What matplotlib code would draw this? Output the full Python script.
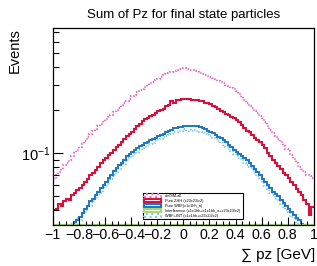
import numpy as np
import matplotlib
matplotlib.use("Agg")
import matplotlib.pyplot as plt
from matplotlib.patches import Patch
from matplotlib.ticker import MultipleLocator, FixedLocator, FixedFormatter, NullFormatter, LogLocator

plt.rcParams['font.family'] = ['Liberation Sans', 'DejaVu Sans']

# 100 bins between -1 and 1
edges = np.linspace(-1, 1, 101)

sm_all = [0.066, 0.070, 0.074, 0.078, 0.083, 0.086, 0.090, 0.096, 0.100, 0.106,
          0.110, 0.116, 0.122, 0.130, 0.137, 0.142, 0.148, 0.155, 0.160, 0.167,
          0.172, 0.180, 0.186, 0.194, 0.201, 0.208, 0.216, 0.224, 0.233, 0.241,
          0.249, 0.257, 0.266, 0.275, 0.283, 0.290, 0.300, 0.308, 0.316, 0.326,
          0.332, 0.341, 0.350, 0.357, 0.364, 0.370, 0.377, 0.383, 0.386, 0.390,
          0.392, 0.389, 0.384, 0.380, 0.376, 0.372, 0.366, 0.360, 0.352, 0.347,
          0.342, 0.335, 0.328, 0.322, 0.315, 0.309, 0.300, 0.294, 0.286, 0.279,
          0.272, 0.260, 0.248, 0.236, 0.224, 0.215, 0.207, 0.198, 0.191, 0.183,
          0.176, 0.165, 0.155, 0.146, 0.138, 0.132, 0.125, 0.119, 0.113, 0.107,
          0.103, 0.097, 0.091, 0.085, 0.080, 0.077, 0.074, 0.071, 0.069, 0.067]

pure_zhh = [0.040, 0.041, 0.044, 0.043, 0.046, 0.048, 0.047, 0.051, 0.053, 0.055,
            0.057, 0.060, 0.063, 0.066, 0.070, 0.073, 0.076, 0.080, 0.085, 0.089,
            0.093, 0.097, 0.101, 0.106, 0.110, 0.115, 0.120, 0.125, 0.131, 0.136,
            0.141, 0.148, 0.154, 0.160, 0.168, 0.172, 0.176, 0.181, 0.186, 0.190,
            0.196, 0.201, 0.205, 0.213, 0.218, 0.232, 0.226, 0.236, 0.234, 0.238,
            0.241, 0.238, 0.240, 0.236, 0.235, 0.234, 0.231, 0.230, 0.225, 0.223,
            0.220, 0.214, 0.210, 0.203, 0.198, 0.194, 0.189, 0.186, 0.180, 0.176,
            0.171, 0.164, 0.157, 0.150, 0.144, 0.140, 0.134, 0.128, 0.123, 0.119,
            0.115, 0.108, 0.101, 0.095, 0.090, 0.086, 0.082, 0.078, 0.073, 0.070,
            0.067, 0.063, 0.060, 0.056, 0.054, 0.051, 0.047, 0.044, 0.037, 0.042]

pure_wbf = [0.020, 0.021, 0.023, 0.024, 0.026, 0.027, 0.029, 0.031, 0.033, 0.034,
            0.036, 0.038, 0.041, 0.043, 0.046, 0.048, 0.051, 0.054, 0.057, 0.060,
            0.063, 0.067, 0.071, 0.075, 0.079, 0.083, 0.086, 0.090, 0.095, 0.099,
            0.102, 0.106, 0.109, 0.112, 0.115, 0.117, 0.120, 0.123, 0.126, 0.128,
            0.131, 0.134, 0.137, 0.140, 0.143, 0.145, 0.149, 0.150, 0.153, 0.152,
            0.156, 0.154, 0.156, 0.155, 0.156, 0.154, 0.152, 0.149, 0.147, 0.144,
            0.141, 0.138, 0.134, 0.130, 0.127, 0.123, 0.119, 0.114, 0.110, 0.106,
            0.102, 0.099, 0.096, 0.092, 0.089, 0.086, 0.082, 0.078, 0.074, 0.070,
            0.066, 0.063, 0.060, 0.057, 0.054, 0.052, 0.050, 0.047, 0.045, 0.043,
            0.041, 0.039, 0.037, 0.035, 0.034, 0.032, 0.030, 0.028, 0.026, 0.025]

interference = [0.008, 0.007, 0.009, 0.008, 0.007, 0.008, 0.009, 0.008, 0.007, 0.008,
                0.009, 0.008, 0.008, 0.007, 0.009, 0.008, 0.008, 0.009, 0.007, 0.008,
                0.009, 0.008, 0.007, 0.008, 0.009, 0.008, 0.008, 0.007, 0.009, 0.008,
                0.008, 0.009, 0.008, 0.007, 0.008, 0.009, 0.008, 0.008, 0.007, 0.009,
                0.008, 0.009, 0.008, 0.008, 0.007, 0.009, 0.008, 0.009, 0.008, 0.008,
                0.009, 0.008, 0.008, 0.009, 0.007, 0.008, 0.009, 0.008, 0.008, 0.007,
                0.009, 0.008, 0.008, 0.009, 0.008, 0.007, 0.008, 0.009, 0.008, 0.008,
                0.007, 0.009, 0.008, 0.008, 0.009, 0.008, 0.007, 0.008, 0.009, 0.008,
                0.008, 0.007, 0.009, 0.008, 0.008, 0.009, 0.008, 0.007, 0.008, 0.009,
                0.008, 0.008, 0.007, 0.009, 0.008, 0.008, 0.009, 0.008, 0.007, 0.008]

wbf_int = [0.019, 0.021, 0.022, 0.023, 0.025, 0.027, 0.028, 0.032, 0.031, 0.035,
           0.034, 0.038, 0.039, 0.042, 0.043, 0.046, 0.048, 0.052, 0.053, 0.057,
           0.059, 0.064, 0.066, 0.071, 0.074, 0.078, 0.081, 0.084, 0.089, 0.092,
           0.096, 0.099, 0.102, 0.105, 0.108, 0.110, 0.113, 0.116, 0.118, 0.121,
           0.123, 0.126, 0.129, 0.131, 0.134, 0.137, 0.140, 0.141, 0.144, 0.143,
           0.147, 0.144, 0.146, 0.143, 0.145, 0.142, 0.141, 0.138, 0.137, 0.133,
           0.131, 0.128, 0.125, 0.121, 0.118, 0.115, 0.111, 0.107, 0.103, 0.099,
           0.096, 0.093, 0.089, 0.086, 0.083, 0.080, 0.077, 0.073, 0.069, 0.066,
           0.062, 0.059, 0.056, 0.053, 0.051, 0.048, 0.047, 0.044, 0.042, 0.040,
           0.039, 0.036, 0.035, 0.033, 0.031, 0.030, 0.028, 0.026, 0.025, 0.023]

labels = ["c/v/SM-all", "Pure ZHH (c23c23/c2)", "Pure WBF(c1c1hh_a)",
          "Interference (c1c1hh+c1c1hh_a+c23c23/c2)", "WBF+INT (c1c1hh+c23c23/c2)"]
colors = ["#e874c8", "#d8103c", "#1a78c2", "#a6d96a", "#8cc8ec"]
xtick_vals = [-1, -0.8, -0.6, -0.4, -0.2, 0, 0.2, 0.4, 0.6, 0.8, 1]
xtick_text = ["\u22121", "\u22120.8", "\u22120.6", "\u22120.4", "\u22120.2", "0",
              "0.2", "0.4", "0.6", "0.8", "1"]

ylo, yhi = 0.0315, 0.75

fig = plt.figure(figsize=(3.17, 2.66), dpi=100)
ax = fig.add_axes([0.167, 0.154, 0.823, 0.741])

ax.stairs(sm_all, edges, color=colors[0], lw=1.6, ls=(0, (0.6, 0.9)), baseline=None)
ax.stairs(pure_zhh, edges, color=colors[1], lw=1.5, baseline=None)
ax.stairs(wbf_int, edges, color=colors[4], lw=1.5, ls=(0, (0.6, 0.9)), baseline=None)
ax.stairs(pure_wbf, edges, color=colors[2], lw=1.4, baseline=None)
# interference is below the range; draw it on the floor like ROOT does
ax.stairs(np.maximum(interference, ylo * 1.005), edges, color=colors[3], lw=1.6, baseline=None)

ax.set_yscale("log")
ax.set_xlim(-1, 1)
ax.set_ylim(ylo, yhi)

ax.xaxis.set_major_locator(FixedLocator(xtick_vals))
ax.xaxis.set_major_formatter(FixedFormatter(xtick_text))
ax.xaxis.set_minor_locator(MultipleLocator(0.05))
ax.yaxis.set_major_locator(LogLocator(base=10, numticks=5))
ax.yaxis.set_minor_locator(LogLocator(base=10, subs=np.arange(2, 10), numticks=20))
ax.yaxis.set_minor_formatter(NullFormatter())

ax.tick_params(which="both", direction="in", top=False, right=False)
ax.tick_params(axis="x", which="major", length=6, width=0.8, labelsize=10.3, pad=2)
ax.tick_params(axis="x", which="minor", length=3, width=0.8)
ax.tick_params(axis="y", which="major", length=7, width=0.8, labelsize=10.5, pad=2)
ax.tick_params(axis="y", which="minor", length=4, width=0.8)
for s in ax.spines.values():
    s.set_linewidth(0.9)

ax.set_title("Sum of Pz for final state particles", fontsize=9.5, pad=7)
fig.text(0.994, 0.04, "\u2211 pz [GeV]", ha="right", va="center", fontsize=11)
fig.text(0.048, 0.81, "Events", ha="center", va="center", rotation=90, fontsize=10.5)

handles = [
    Patch(facecolor="white", edgecolor=colors[0], lw=1.5, ls=":"),
    Patch(facecolor="white", edgecolor=colors[1], lw=1.5),
    Patch(facecolor="white", edgecolor=colors[2], lw=1.5),
    Patch(facecolor="white", edgecolor=colors[3], lw=1.5),
    Patch(facecolor="white", edgecolor=colors[4], lw=1.5, ls=":"),
]
leg = ax.legend(handles, labels, loc="lower left", bbox_to_anchor=(0.336, 0.02, 0.401, 0.145),
                mode="expand", fontsize=2.8, handlelength=4.5, handleheight=0.9,
                borderpad=0.3, labelspacing=0.25, handletextpad=1.0,
                frameon=True, fancybox=False, edgecolor="black", framealpha=1)
leg.get_frame().set_linewidth(0.8)

fig.savefig("out.png", dpi=100)
